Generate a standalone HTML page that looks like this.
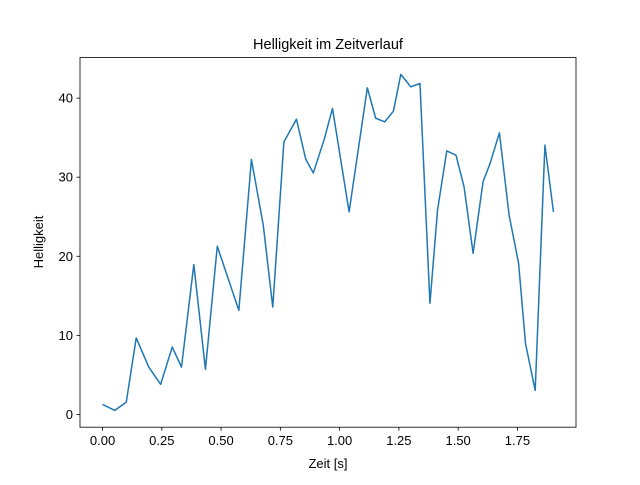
<!DOCTYPE html>
<html><head><meta charset="utf-8"><style>
body{margin:0;background:#fff}
svg text{font-family:"Liberation Sans","DejaVu Sans",sans-serif;fill:#000}
</style></head><body>
<svg id="chart" width="640" height="480" xmlns="http://www.w3.org/2000/svg">
<rect width="640" height="480" fill="#fff"/>
<text x="328" y="49" font-size="14.5" text-anchor="middle">Helligkeit im Zeitverlauf</text>
<g id="xticks"></g>
<g id="yticks"></g>
<path id="line" fill="none" stroke="#1f77b4" stroke-width="1.5" stroke-linejoin="round"/>
<rect x="80" y="57.6" width="496" height="369.6" fill="none" stroke="#000" stroke-width="0.8"/>
<text x="328" y="468" font-size="13" text-anchor="middle">Zeit [s]</text>
<text x="0" y="0" font-size="13" text-anchor="middle" transform="translate(43,242) rotate(-90)">Helligkeit</text>
</svg>
<script>
const times=[0,0.052,0.10,0.142,0.195,0.245,0.294,0.333,0.385,0.434,0.484,0.575,0.628,0.678,0.718,0.765,0.818,0.857,0.889,0.934,0.970,1.040,1.117,1.152,1.190,1.227,1.258,1.300,1.339,1.381,1.413,1.452,1.491,1.525,1.563,1.605,1.635,1.674,1.715,1.755,1.784,1.825,1.866,1.902];
const brightness=[1.27,0.51,1.56,9.67,5.99,3.80,8.52,5.99,18.95,5.70,21.27,13.16,32.24,23.92,13.58,34.46,37.34,32.28,30.54,34.68,38.69,25.61,41.30,37.47,37.00,38.35,43.00,41.43,41.85,14.05,25.82,33.33,32.78,28.77,20.38,29.41,31.77,35.61,25.19,19.11,8.99,3.04,34.05,25.61];
const xTickVals=[0,0.25,0.5,0.75,1,1.25,1.5,1.75];
const xTickLabels=["0.00","0.25","0.50","0.75","1.00","1.25","1.50","1.75"];
const yTickVals=[0,10,20,30,40];
const yTickLabels=["0","10","20","30","40"];
const L=80,R=576,T=57.6,B=427.2;
const xmin0=Math.min(...times),xmax0=Math.max(...times);
const xr=xmax0-xmin0,xmin=xmin0-0.05*xr,xmax=xmax0+0.05*xr;
const ymin0=Math.min(...brightness),ymax0=Math.max(...brightness);
const yr=ymax0-ymin0,ymin=ymin0-0.05*yr,ymax=ymax0+0.05*yr;
const sx=v=>L+(v-xmin)/(xmax-xmin)*(R-L);
const sy=v=>B-(v-ymin)/(ymax-ymin)*(B-T);
const NS="http://www.w3.org/2000/svg";
const xg=document.getElementById('xticks'),yg=document.getElementById('yticks');
xTickVals.forEach((v,i)=>{
  const x=sx(v);
  const l=document.createElementNS(NS,'line');
  
  
  l.setAttribute('x1',x);l.setAttribute('x2',x);l.setAttribute('y1',B);l.setAttribute('y2',B+3.5);l.setAttribute('stroke','#000');l.setAttribute('stroke-width','0.8');
  xg.appendChild(l);
  const t=document.createElementNS(NS,'text');
  
  
  t.setAttribute('x',x);t.setAttribute('y',B+18);t.setAttribute('font-size','13');t.setAttribute('text-anchor','middle');
  t.textContent=xTickLabels[i];xg.appendChild(t);
});
yTickVals.forEach((v,i)=>{
  const y=sy(v);
  const l=document.createElementNS(NS,'line');
  
  
  l.setAttribute('x1',L-3.5);l.setAttribute('x2',L);l.setAttribute('y1',y);l.setAttribute('y2',y);l.setAttribute('stroke','#000');l.setAttribute('stroke-width','0.8');
  yg.appendChild(l);
  const t=document.createElementNS(NS,'text');
  
  
  t.setAttribute('x',L-7);t.setAttribute('y',y+4.5);t.setAttribute('font-size','13');t.setAttribute('text-anchor','end');
  t.textContent=yTickLabels[i];yg.appendChild(t);
});
document.getElementById('line').setAttribute('d',times.map((t,i)=>(i?'L':'M')+sx(t).toFixed(2)+','+sy(brightness[i]).toFixed(2)).join(''));
</script>
</body></html>
